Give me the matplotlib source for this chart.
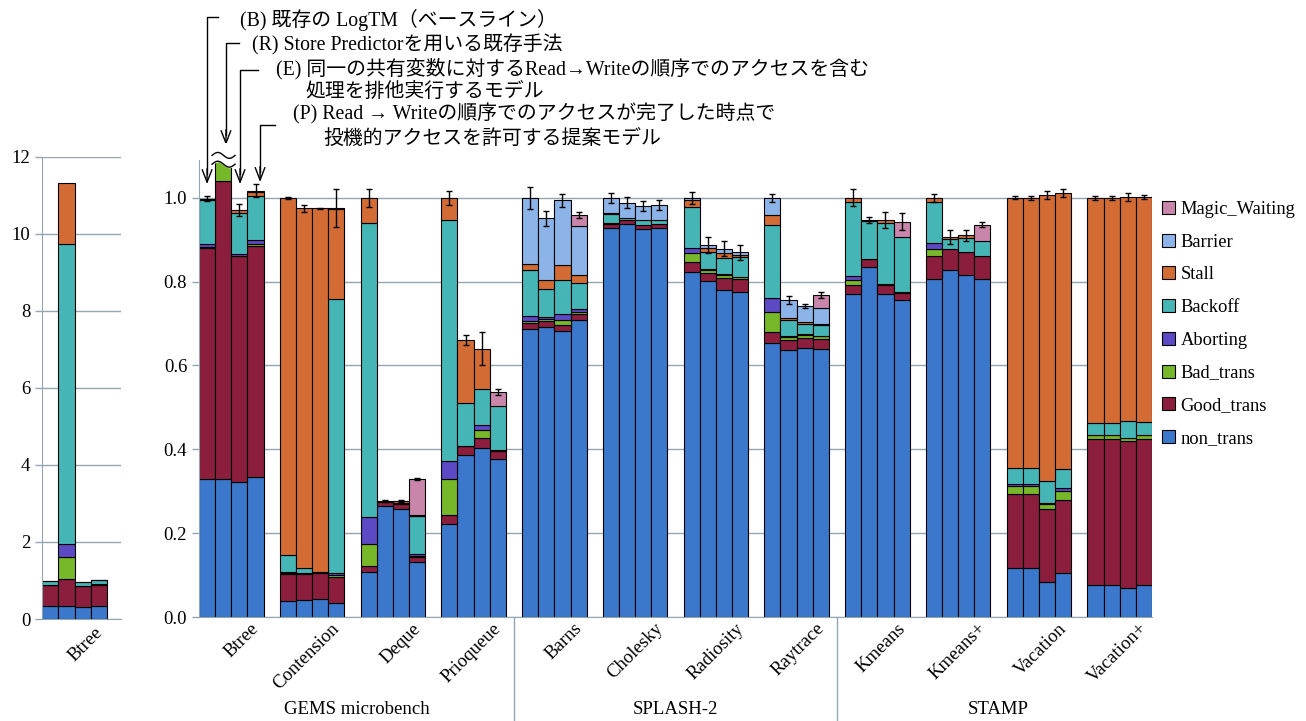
import numpy as np
import matplotlib
matplotlib.use('Agg')
import matplotlib.pyplot as plt
from matplotlib.patches import Patch
from matplotlib.transforms import offset_copy

plt.rcParams['font.family'] = ['Liberation Serif', 'Noto Sans CJK JP']

# ---- data: 12 benchmarks x 4 models (B, R, E, P), normalised exec time ----
groups = ['Btree', 'Contension', 'Deque', 'Prioqueue', 'Barns', 'Cholesky',
          'Radiosity', 'Raytrace', 'Kmeans', 'Kmeans+', 'Vacation', 'Vacation+']
suites = ['GEMS microbench', 'SPLASH-2', 'STAMP']

non_trans = [0.329, 0.330, 0.323, 0.333, 0.039, 0.040, 0.043, 0.033, 0.107, 0.264, 0.258, 0.131,
             0.221, 0.387, 0.403, 0.377, 0.687, 0.692, 0.683, 0.708, 0.928, 0.937, 0.926, 0.928,
             0.823, 0.801, 0.780, 0.775, 0.654, 0.636, 0.641, 0.640, 0.770, 0.835, 0.770, 0.756,
             0.807, 0.827, 0.816, 0.807, 0.117, 0.117, 0.083, 0.105, 0.077, 0.077, 0.069, 0.077]
good_trans = [0.550, 0.710, 0.537, 0.552, 0.064, 0.063, 0.062, 0.062, 0.014, 0.011, 0.011, 0.012,
              0.022, 0.020, 0.023, 0.020, 0.015, 0.014, 0.014, 0.014, 0.009, 0.011, 0.010, 0.009,
              0.023, 0.020, 0.028, 0.030, 0.025, 0.024, 0.025, 0.023, 0.022, 0.018, 0.022, 0.016,
              0.054, 0.051, 0.054, 0.054, 0.177, 0.177, 0.175, 0.175, 0.348, 0.348, 0.350, 0.348]
bad_trans = [0.004, 0.570, 0.002, 0.005, 0.002, 0.001, 0.0, 0.005, 0.053, 0.0, 0.0, 0.003,
             0.086, 0.001, 0.021, 0.001, 0.004, 0.004, 0.011, 0.005, 0.0, 0.0, 0.0, 0.0,
             0.021, 0.006, 0.008, 0.006, 0.048, 0.008, 0.006, 0.007, 0.011, 0.0, 0.0, 0.0,
             0.017, 0.0, 0.0, 0.0, 0.018, 0.018, 0.012, 0.020, 0.008, 0.008, 0.008, 0.008]
aborting = [0.006, 0.340, 0.003, 0.010, 0.002, 0.001, 0.0, 0.004, 0.065, 0.0, 0.0, 0.004,
            0.044, 0.001, 0.010, 0.001, 0.013, 0.006, 0.014, 0.008, 0.002, 0.0, 0.0, 0.0,
            0.012, 0.002, 0.003, 0.001, 0.034, 0.003, 0.002, 0.001, 0.010, 0.002, 0.003, 0.002,
            0.015, 0.0, 0.001, 0.001, 0.006, 0.006, 0.002, 0.007, 0.001, 0.001, 0.001, 0.001]
backoff = [0.106, 7.790, 0.099, 0.104, 0.040, 0.013, 0.002, 0.655, 0.701, 0.0, 0.002, 0.090,
           0.575, 0.102, 0.087, 0.104, 0.108, 0.067, 0.082, 0.061, 0.023, 0.003, 0.011, 0.009,
           0.099, 0.042, 0.037, 0.047, 0.173, 0.037, 0.024, 0.026, 0.177, 0.089, 0.145, 0.133,
           0.097, 0.024, 0.033, 0.034, 0.038, 0.038, 0.052, 0.046, 0.029, 0.029, 0.040, 0.031]
stall = [0.003, 1.580, 0.007, 0.009, 0.853, 0.857, 0.868, 0.215, 0.060, 0.002, 0.005, 0.002,
         0.052, 0.149, 0.096, 0.0, 0.016, 0.020, 0.036, 0.019, 0.001, 0.0, 0.0, 0.0,
         0.016, 0.009, 0.013, 0.005, 0.025, 0.004, 0.006, 0.002, 0.010, 0.003, 0.007, 0.0,
         0.010, 0.004, 0.006, 0.0, 0.644, 0.643, 0.682, 0.659, 0.537, 0.537, 0.534, 0.537]
barrier = [0, 0, 0, 0, 0, 0, 0, 0, 0, 0, 0, 0.002,
           0, 0, 0, 0, 0.157, 0.148, 0.154, 0.118, 0.037, 0.037, 0.033, 0.036,
           0.006, 0.007, 0.009, 0.006, 0.041, 0.044, 0.037, 0.038, 0, 0, 0, 0,
           0, 0, 0, 0, 0, 0, 0, 0, 0, 0, 0, 0]
magic_waiting = [0, 0, 0, 0.004, 0, 0, 0, 0.002, 0, 0, 0, 0.085,
                 0, 0, 0, 0.034, 0, 0, 0, 0.026, 0, 0, 0, 0,
                 0, 0, 0, 0, 0, 0, 0, 0.031, 0, 0, 0, 0.036,
                 0, 0, 0, 0.040, 0, 0, 0, 0, 0, 0, 0, 0]
errs = [0.005, 0, 0.015, 0.015, 0.002, 0.008, 0.001, 0.045, 0.022, 0.002, 0.002, 0.003,
        0.017, 0.012, 0.040, 0.007, 0.026, 0.018, 0.016, 0.008, 0.012, 0.013, 0.012, 0.012,
        0.014, 0.019, 0.018, 0.018, 0.010, 0.010, 0.005, 0.006, 0.020, 0.008, 0.020, 0.020,
        0.010, 0.016, 0.013, 0.005, 0.004, 0.004, 0.010, 0.010, 0.005, 0.005, 0.010, 0.005]

series = [(non_trans, 'non_trans', '#3B78CB'),
          (good_trans, 'Good_trans', '#8B1E3C'),
          (bad_trans, 'Bad_trans', '#76B82A'),
          (aborting, 'Aborting', '#5B4AC4'),
          (backoff, 'Backoff', '#46B5B5'),
          (stall, 'Stall', '#D26B34'),
          (barrier, 'Barrier', '#8CB4E8'),
          (magic_waiting, 'Magic_Waiting', '#C985AA')]

W, H = 1306, 721
gridc = '#93A6B0'


def box(l, r, b, t):
    return [l / W, 1 - b / H, (r - l) / W, (b - t) / H]


fig = plt.figure(figsize=(W / 100, H / 100), dpi=100)
ax = fig.add_axes(box(199, 1152, 617, 160))
ax_s = fig.add_axes(box(42, 121, 619, 157))

x = np.array([g * 5 + i for g in range(len(groups)) for i in range(4)], dtype=float)


def draw_stack(a, xs, n):
    bottom = np.zeros(n)
    for vals, name, col in series:
        v = np.array(vals[:n], dtype=float)
        m = v > 0
        a.bar(xs[m], v[m], width=1, bottom=bottom[m], align='edge', color=col,
              edgecolor='black', linewidth=0.8, zorder=2)
        bottom += v
    return bottom


totals = draw_stack(ax, x, 48)
e = np.array(errs)
m = e > 0
ax.errorbar(x[m] + 0.5, totals[m], yerr=e[m], fmt='none', ecolor='black',
            elinewidth=1, capsize=2.5, capthick=1, zorder=3)

for a in (ax, ax_s):
    for s in ('top', 'right'):
        a.spines[s].set_visible(False)
    for s in ('left', 'bottom'):
        a.spines[s].set_color(gridc)
    a.grid(axis='y', color=gridc, lw=1, zorder=0)
    a.set_axisbelow(True)
    a.tick_params(axis='y', colors=gridc, labelcolor='black', labelsize=13.5, length=5, width=1)
    a.tick_params(axis='x', length=0, labelbottom=False)

ax.set_xlim(0, 59)
ax.set_ylim(0, 1.09)
yt = np.arange(0, 1.01, 0.2)
ax.set_yticks(yt)
ax.set_yticklabels([f'{v:.1f}' for v in yt])

# small inset: Btree on a 0-12 scale
xs_small = np.arange(4, dtype=float)
draw_stack(ax_s, xs_small, 4)
ax_s.set_xlim(0, 4.86)
ax_s.set_ylim(0, 12)
ax_s.set_yticks(range(0, 13, 2))

lab_tr = offset_copy(ax.get_xaxis_transform(), fig=fig, x=19, y=-3, units='dots')
for g, name in enumerate(groups):
    ax.text(g * 5 + 2, 0, name, transform=lab_tr, rotation=45, ha='right', va='top',
            rotation_mode='anchor', fontsize=13.5)
lab_tr_s = offset_copy(ax_s.get_xaxis_transform(), fig=fig, x=19, y=-5, units='dots')
ax_s.text(2, 0, 'Btree', transform=lab_tr_s, rotation=45, ha='right', va='top',
          rotation_mode='anchor', fontsize=13.5)

# suite separators and names
xt = ax.get_xaxis_transform()
for sx in (19.5, 39.5):
    ax.plot([sx, sx], [0, -0.23], transform=xt, clip_on=False, color=gridc, lw=1)
for cx, name in zip((9.75, 29.5, 49.5), suites):
    ax.text(cx, -0.203, name, transform=xt, ha='center', va='center', fontsize=13.5)

# legend
handles = [Patch(facecolor=c, edgecolor='black', linewidth=0.8, label=n) for _, n, c in series][::-1]
fig.legend(handles=handles, loc='upper left', bbox_to_anchor=(1162 / W, 1 - 201 / H),
           frameon=False, fontsize=13.3, handlelength=0.7, handleheight=0.7,
           handletextpad=0.3, labelspacing=0.85, borderaxespad=0, borderpad=0)

# broken bar marker on the R bar of Btree
t = np.linspace(0, 1, 60)
wx = 0.81 + 1.42 * t
low = 1.080 + 0.007 * np.sin(2 * np.pi * t)
up = 1.101 + 0.007 * np.sin(2 * np.pi * t)
ax.fill_between(wx, low, 1.13, color='white', zorder=4, clip_on=False)
ax.plot(wx, low, color='black', lw=1, zorder=5, clip_on=False)
ax.plot(wx, up, color='black', lw=1, zorder=5, clip_on=False)

# model annotations
notes = [(0.50, 1.18, 1.430, 1.026), (1.67, 2.48, 1.370, 1.119),
         (2.54, 3.65, 1.305, 1.026), (3.78, 4.71, 1.174, 1.031)]
for vx, hx, top, tip in notes:
    ax.plot([hx, vx, vx], [top, top, tip + 0.03], color='black', lw=1, clip_on=False, zorder=5)
    ax.annotate('', xy=(vx, tip), xytext=(vx, tip + 0.05),
                arrowprops=dict(arrowstyle='->,head_length=0.9,head_width=0.35', lw=1, color='black'),
                annotation_clip=False)

texts = [(240, 20, '(B) 既存の LogTM（ベースライン）'),
         (252, 45, '(R) Store Predictorを用いる既存手法'),
         (276, 69, '(E) 同一の共有変数に対するRead→Writeの順序でのアクセスを含む'),
         (305, 92, '処理を排他実行するモデル'),
         (293, 114, '(P) Read → Writeの順序でのアクセスが完了した時点で'),
         (323, 139, '投機的アクセスを許可する提案モデル')]
for tx, ty, s in texts:
    fig.text(tx / W, 1 - ty / H, s, ha='left', va='center', fontsize=14.3)

fig.savefig('out.png', dpi=100)
